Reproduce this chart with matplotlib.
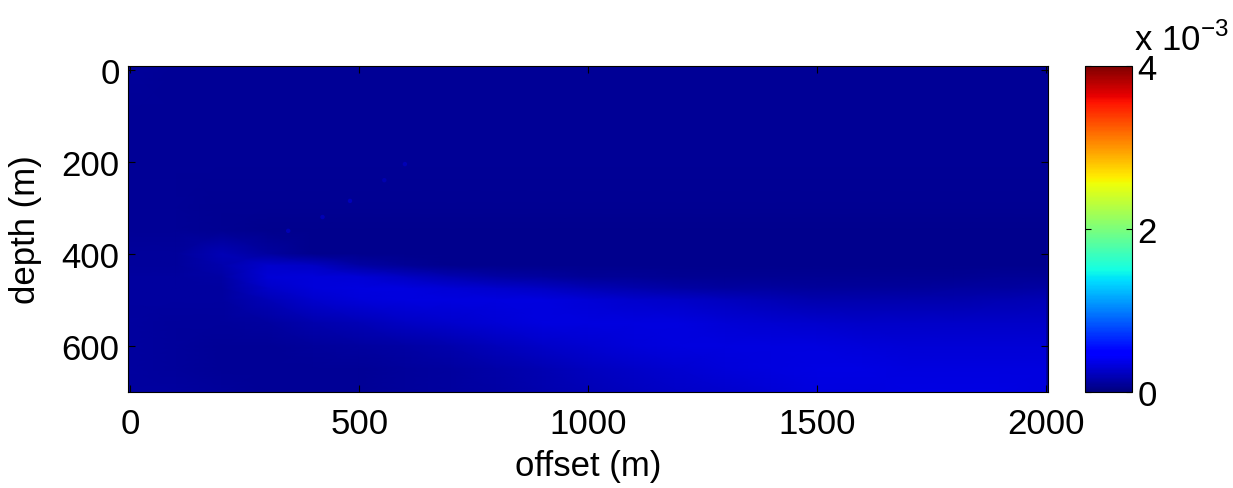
import numpy as np
import matplotlib
matplotlib.use("Agg")
import matplotlib.pyplot as plt

plt.rcParams['font.family'] = ['Liberation Sans', 'DejaVu Sans']

# grid nodes (m)
offset_m = [0, 100, 200, 300, 400, 500, 600, 700, 800, 900, 1000,
            1100, 1200, 1300, 1400, 1500, 1600, 1700, 1800, 1900, 2000]
depth_m = [0, 100, 200, 300, 350, 400, 425, 450, 475, 500, 550, 600, 650, 700]

# estimated field values, in units of 1e-3
d000 = [.10, .09, .08, .08, .08, .08, .08, .08, .08, .08, .08, .08, .08, .08, .08, .08, .08, .08, .08, .08, .08]
d100 = [.09, .08, .08, .08, .08, .08, .08, .08, .08, .08, .08, .08, .08, .08, .08, .08, .08, .08, .08, .08, .08]
d200 = [.09, .08, .08, .08, .08, .08, .08, .08, .08, .08, .08, .08, .08, .08, .08, .08, .08, .08, .08, .08, .08]
d300 = [.09, .08, .07, .07, .07, .07, .07, .07, .07, .07, .07, .07, .07, .07, .07, .07, .07, .07, .07, .07, .07]
d350 = [.09, .08, .07, .06, .06, .06, .05, .05, .05, .05, .05, .05, .05, .05, .05, .06, .06, .06, .06, .06, .06]
d400 = [.10, .10, .20, .12, .06, .05, .05, .05, .05, .05, .05, .05, .05, .05, .05, .05, .05, .05, .05, .05, .05]
d425 = [.10, .10, .16, .28, .24, .14, .08, .06, .05, .05, .05, .05, .05, .05, .05, .05, .05, .05, .05, .05, .05]
d450 = [.11, .11, .14, .30, .32, .30, .24, .18, .14, .11, .09, .08, .07, .07, .07, .07, .07, .07, .07, .08, .08]
d475 = [.11, .11, .12, .26, .32, .33, .33, .31, .28, .24, .20, .17, .14, .12, .11, .10, .10, .10, .11, .12, .13]
d500 = [.11, .11, .11, .20, .28, .32, .33, .34, .34, .33, .31, .28, .25, .22, .19, .17, .16, .16, .17, .18, .19]
d550 = [.11, .10, .10, .12, .16, .20, .24, .28, .31, .33, .34, .34, .33, .31, .29, .27, .26, .25, .25, .25, .25]
d600 = [.11, .10, .09, .09, .10, .11, .14, .17, .21, .25, .29, .32, .34, .34, .34, .33, .32, .31, .30, .30, .30]
d650 = [.11, .10, .09, .08, .08, .09, .10, .12, .15, .18, .22, .26, .29, .32, .34, .35, .35, .34, .33, .33, .33]
d700 = [.12, .11, .10, .09, .09, .09, .10, .11, .13, .16, .19, .22, .25, .28, .31, .33, .34, .35, .35, .35, .34]

# faint point scatterers (offset, depth, value in 1e-3)
pt_offset = [345, 420, 480, 555, 600]
pt_depth = [350, 320, 285, 240, 205]
pt_value = [0.22, 0.22, 0.24, 0.20, 0.22]

xticks = [0, 500, 1000, 1500, 2000]
yticks = [0, 200, 400, 600]
cticks = [0, 2, 4]

field = np.array([d000, d100, d200, d300, d350, d400, d425, d450, d475,
                  d500, d550, d600, d650, d700])

FS = 25
fig = plt.figure(figsize=(12.33, 4.89), dpi=100)
ax = fig.add_axes([128/1233, 1-393/489, 920/1233, 326/489])
cax = fig.add_axes([1085/1233, 1-393/489, 47/1233, 326/489])

mesh = ax.pcolormesh(offset_m, depth_m, field, cmap='jet', vmin=0, vmax=4,
                     shading='gouraud', rasterized=True)
ax.scatter(pt_offset, pt_depth, c=pt_value, cmap='jet', vmin=0, vmax=4,
           s=10, edgecolors='none', alpha=0.8)
ax.set_facecolor(plt.get_cmap('jet')(0.02))
ax.set_xlim(-5, 2005)
ax.set_ylim(700, -8)
ax.set_xticks(xticks)
ax.set_yticks(yticks)
ax.tick_params(labelsize=FS, direction='in', length=5, top=True, right=True,
               color='black')
ax.tick_params(axis='x', pad=11)
ax.tick_params(axis='y', pad=6)
ax.set_xlabel('offset (m)', fontsize=FS, labelpad=6)
ax.set_ylabel('depth (m)', fontsize=FS, labelpad=14)
for s in ax.spines.values():
    s.set_linewidth(0.8)

cb = fig.colorbar(mesh, cax=cax, ticks=cticks)
cb.ax.tick_params(labelsize=FS, direction='in', length=4, left=True, right=True,
                  pad=4)
cb.outline.set_linewidth(0.8)
fig.text(1134/1233, 1-51/489, r'x 10$^{\mathregular{-3}}$', fontsize=FS,
         ha='left', va='baseline')

fig.savefig('out.png', dpi=100)
